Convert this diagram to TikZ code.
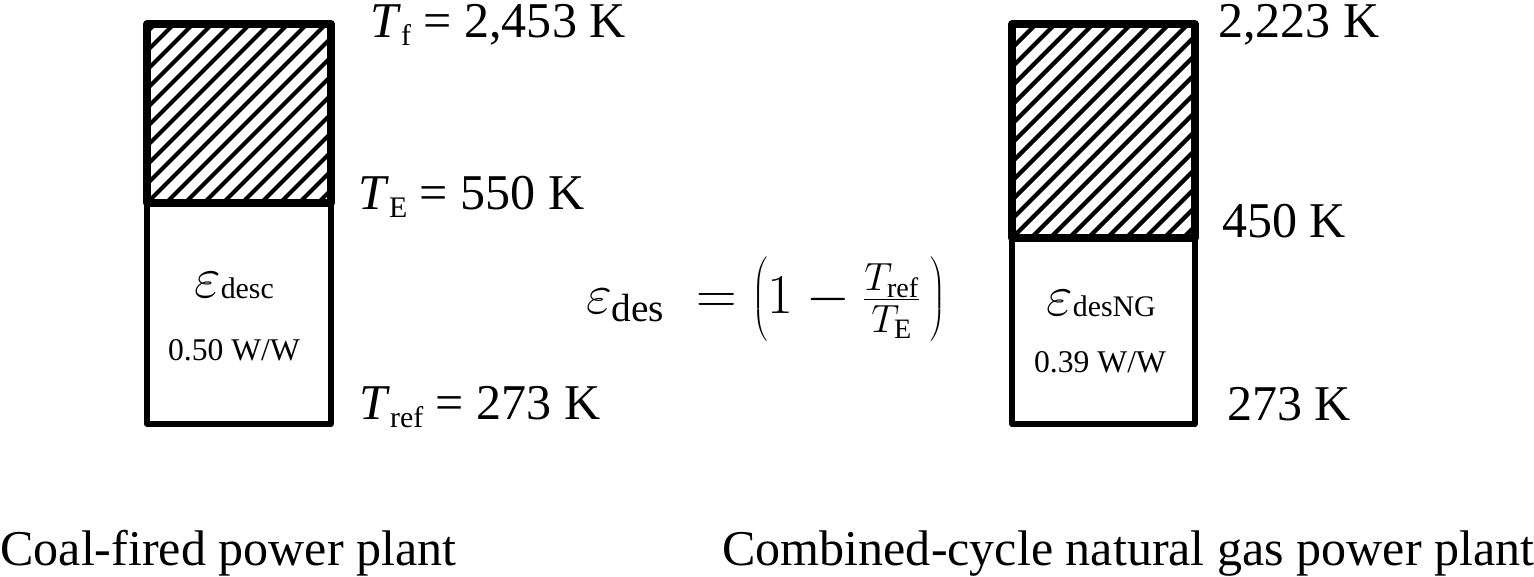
\documentclass[tikz,border=0pt]{standalone}
\usepackage{fix-cm}
\usepackage{fontspec}
\setmainfont{Liberation Serif}
\usetikzlibrary{positioning}
\newcommand{\lowsub}[2][5pt]{\raisebox{-#1}{\fontsize{17}{20}\selectfont #2}}
\newcommand{\bigeps}{{\fontsize{33}{38}\selectfont$\varepsilon$}}
\tikzset{
  lbl/.style={anchor=base west,inner sep=0pt,font=\fontsize{28.5}{34}\selectfont},
  inlbl/.style={anchor=base,inner sep=0pt,font=\fontsize{18}{22}\selectfont},
  eqn/.style={anchor=base,inner sep=0pt,font=\fontsize{32}{38}\selectfont},
  hotbox/.style={line width=4.4pt,line join=round},
  coldbox/.style={line width=2.9pt,line join=round},
  hatch/.style={line width=2.4pt}
}
\begin{document}
\begin{tikzpicture}[x=0.02cm,y=-0.02cm]
\useasboundingbox (0,0) rectangle (1534,576);
\begin{scope} \clip (147,24) rectangle (331,203);
\foreach \s in {-190,-171,...,200} \draw[hatch] (147+\s,203) -- ++(260,-260); \end{scope}
\begin{scope} \clip (1012,24) rectangle (1195,238);
\foreach \s in {-228,-209,...,200} \draw[hatch] (1012+\s,238) -- ++(300,-300); \end{scope}
\draw[coldbox] (147,203) rectangle (331,424); \draw[hotbox] (147,24) rectangle (331,203);
\draw[coldbox] (1012,238) rectangle (1195,424); \draw[hotbox] (1012,24) rectangle (1195,238);
\node[lbl] (tf) at (370,37) {\textit{T}\lowsub{f} = 2,453 K};
\node[lbl] (te) at (358,209) {\textit{T}\lowsub{E} = 550 K};
\node[lbl] (tref) at (359,419) {\textit{T}\lowsub{ref} = 273 K};
\node[lbl] (tfng) at (1218,37) {2,223 K};
\node[lbl] (teng) at (1222,237) {450 K};
\node[lbl] (trefng) at (1227,420) {273 K};
\node[lbl,anchor=base] (epsc) at (234,297) {\bigeps\lowsub[1pt]{desc}};
\node[inlbl] (effc) at (234,360) {0.50 W/W};
\node[lbl,anchor=base] (epsng) at (1101,315) {\bigeps\lowsub[1pt]{desNG}};
\node[inlbl] (effng) at (1100,372) {0.39 W/W};
\node[eqn] (eq) at (766,313)
  {$\varepsilon_{\mathrm{des}}\; = \left(\rule[-17pt]{0pt}{44pt}1-\frac{T_{\mathrm{ref}}}{T_{\mathrm{E}}}\,\right)$};
\node[lbl] (coal) at (0,565) {Coal-fired power plant};
\node[lbl] (ngcc) at (722,565) {Combined-cycle natural gas power plant};
\end{tikzpicture}
\end{document}
